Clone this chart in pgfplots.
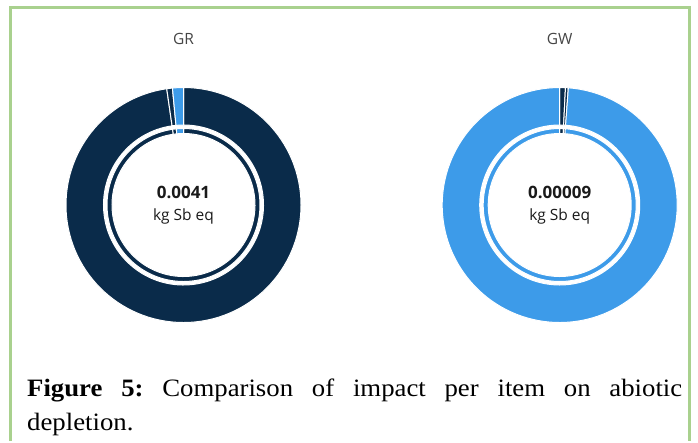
\documentclass[border=0pt]{standalone}
\usepackage{pgfplots}
\pgfplotsset{compat=1.18}
\usepackage{pgfplotstable}
\usepackage{fontspec}
\setmainfont{Liberation Serif}[FakeStretch=1.07]
\newfontfamily\chartfont{Open Sans}

\definecolor{navy}{HTML}{0A2B4A}
\definecolor{sky}{HTML}{3D9BE9}
\definecolor{framegreen}{HTML}{A9D18E}
\definecolor{titlegray}{HTML}{454545}
\definecolor{valueblack}{HTML}{1A1A1A}

% share of each item in the total (percent), clockwise from 12 o'clock
\pgfplotstableread{
item share colour
A    97.72 navy
B    0.78  navy
C    1.50  sky
}\GRdata
\pgfplotstableread{
item share colour
A    0.78  navy
B    0.39  navy
C    98.83 sky
}\GWdata

% \ring{table}{centre x}{centre y}{inner radius}{outer radius}
\newcommand\ring[5]{%
  \pgfplotstablegetrowsof{#1}%
  \pgfmathtruncatemacro\lastrow{\pgfplotsretval-1}%
  \gdef\cum{0}%
  \foreach \k in {0,...,\lastrow}{%
    \pgfplotstablegetelem{\k}{share}\of{#1}\let\sh\pgfplotsretval
    \pgfplotstablegetelem{\k}{colour}\of{#1}\let\col\pgfplotsretval
    \pgfmathsetmacro\aS{90-3.6*\cum}%
    \pgfmathsetmacro\aE{90-3.6*(\cum+\sh)}%
    \begin{scope}[shift={(axis cs:#2,#3)}]
      \fill[\col, draw=white, line width=1pt]
        (\aS:#5pt) arc[start angle=\aS, end angle=\aE, radius=#5pt]
        -- (\aE:#4pt) arc[start angle=\aE, end angle=\aS, radius=#4pt]
        -- cycle;
    \end{scope}
    \pgfmathsetmacro\newcum{\cum+\sh}%
    \xdef\cum{\newcum}%
  }%
}

\begin{document}
\begin{tikzpicture}
\begin{axis}[
  width=698pt, height=441pt, scale only axis,
  xmin=0, xmax=698, ymin=0, ymax=441, y dir=reverse,
  hide axis, clip=false,
]
% keep the whole canvas in the picture
\path (axis cs:0,0) rectangle (axis cs:698,441);

% frame
\draw[framegreen, line width=3pt]
  (axis cs:10.5,441) -- (axis cs:10.5,7.2) -- (axis cs:689.5,7.2) -- (axis cs:689.5,441);

% donuts: outer ring and thin inner ring
\pgfplotsextra{%
  \ring{\GRdata}{183.5}{205}{80}{117.5}%
  \ring{\GRdata}{183.5}{205}{71.5}{76.5}%
  \ring{\GWdata}{559.7}{205}{80}{117.5}%
  \ring{\GWdata}{559.7}{205}{71.5}{76.5}%
}

% titles
\node[font=\chartfont\fontsize{15.5}{17}\selectfont, text=titlegray, anchor=base]
  at (axis cs:183.5,44) {GR};
\node[font=\chartfont\fontsize{15.5}{17}\selectfont, text=titlegray, anchor=base]
  at (axis cs:559.7,44) {GW};

% totals
\node[font=\chartfont\bfseries\fontsize{17}{19}\selectfont, text=valueblack, anchor=base]
  at (axis cs:183.5,198.5) {0.0041};
\node[font=\chartfont\fontsize{15.5}{18}\selectfont, text=valueblack, anchor=base]
  at (axis cs:183.5,220) {kg Sb eq};
\node[font=\chartfont\bfseries\fontsize{17}{19}\selectfont, text=valueblack, anchor=base]
  at (axis cs:559.7,198.5) {0.00009};
\node[font=\chartfont\fontsize{15.5}{18}\selectfont, text=valueblack, anchor=base]
  at (axis cs:559.7,220) {kg Sb eq};

% caption
\node[anchor=base west, inner sep=0pt, text width=655pt, align=justify,
      font=\fontsize{25}{33.3}\selectfont\frenchspacing]
  at (axis cs:27,396.7)
  {\textbf{Figure 5:} Comparison of impact per item on abiotic\linebreak depletion.};
\end{axis}
\end{tikzpicture}
\end{document}
